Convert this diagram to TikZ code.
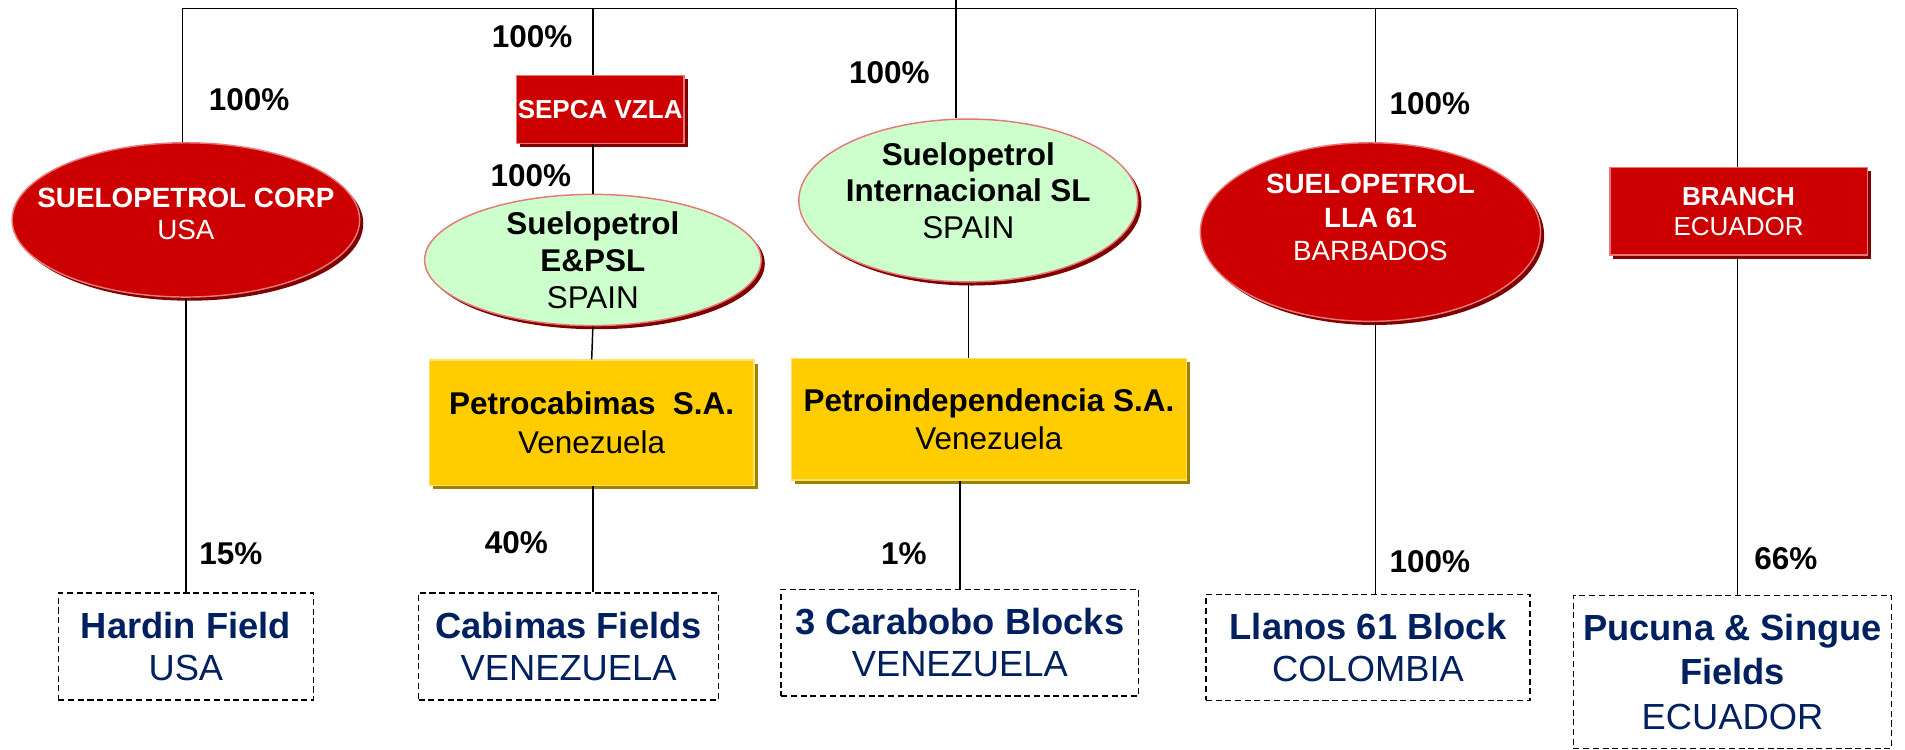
\documentclass[tikz,border=0pt]{standalone}
\usepackage{fontspec}
\setmainfont{Liberation Sans}
\usetikzlibrary{shapes.geometric,shadows}
\definecolor{sred}{RGB}{204,0,0}
\definecolor{sdark}{RGB}{128,0,0}
\definecolor{spink}{RGB}{232,120,120}
\definecolor{sgreen}{RGB}{204,255,204}
\definecolor{syellow}{RGB}{255,204,0}
\definecolor{sgold}{RGB}{160,128,0}
\definecolor{slight}{RGB}{255,226,110}
\definecolor{snavy}{RGB}{0,32,96}
\tikzset{
  darkshadow/.style={drop shadow={shadow xshift=3bp, shadow yshift=-3bp, fill=#1, opacity=1}},
  oval/.style={ellipse, draw=spink, line width=1.2bp, inner sep=0pt, darkshadow=sdark},
  redoval/.style={oval, fill=sred},
  greenoval/.style={oval, fill=sgreen},
  redbox/.style={rectangle, fill=sred, draw=spink, line width=1.2bp, inner sep=0pt, darkshadow=sdark,
    align=center, text=white, font=\fontsize{21.5}{25}\selectfont\bfseries},
  yellowbox/.style={rectangle, fill=syellow, draw=slight, line width=1.2bp, inner sep=0pt, darkshadow=sgold,
    align=center, font=\fontsize{26}{32}\selectfont\bfseries},
  fieldbox/.style={rectangle, draw, line width=1.2bp, dash pattern=on 5bp off 3bp, inner sep=0pt,
    align=center, text=snavy, font=\fontsize{30}{35}\selectfont\bfseries},
  whitetxt/.style={align=center, text=white, font=\fontsize{23}{27}\selectfont\bfseries},
  blacktxt/.style={align=center, font=\fontsize{26}{30.5}\selectfont\bfseries},
  pct/.style={font=\fontsize{26}{30}\selectfont\bfseries},
  wire/.style={line width=1.2bp}
}
\begin{document}
\begin{tikzpicture}[x=1bp, y=-1bp]
  \useasboundingbox (0,0) rectangle (1568,617);
  \coordinate (root) at (787,-5);
  \coordinate (busL) at (150,7);
  \coordinate (bus2) at (488,7);
  \coordinate (bus4) at (1132,7);
  \coordinate (busR) at (1430,7);

  \node[redoval, minimum width=286bp, minimum height=127bp] (corp) at (153,181) {};
  \node[whitetxt, yshift=5bp] (corptxt) at (corp) {SUELOPETROL CORP\\{\mdseries USA}};
  \node[redbox, minimum width=138bp, minimum height=56bp] (sepca) at (494,90) {SEPCA VZLA};
  \node[greenoval, minimum width=277bp, minimum height=108bp] (epsl) at (488,214) {};
  \node[blacktxt] (epsltxt) at (epsl) {Suelopetrol\\E\&PSL\\{\mdseries SPAIN}};
  \node[greenoval, minimum width=279bp, minimum height=134bp] (intl) at (797,165) {};
  \node[blacktxt, yshift=8bp] (intltxt) at (intl) {Suelopetrol\\Internacional SL\\{\mdseries SPAIN}};
  \node[redoval, minimum width=280bp, minimum height=147bp] (lla) at (1128,191) {};
  \node[whitetxt, yshift=12bp, font=\fontsize{23}{28}\selectfont\bfseries] (llatxt) at (lla) {SUELOPETROL\\LLA 61\\{\mdseries BARBADOS}};
  \node[redbox, minimum width=212bp, minimum height=72bp] (branch) at (1431,174) {BRANCH\\{\mdseries ECUADOR}};

  \node[yellowbox, minimum width=267bp, minimum height=103bp] (petrocab) at (487,348) {Petrocabimas~ S.A.\\{\mdseries Venezuela}};
  \node[yellowbox, minimum width=325bp, minimum height=100bp] (petroind) at (814,345) {Petroindependencia S.A.\\{\mdseries Venezuela}};

  \node[fieldbox, minimum width=210bp, minimum height=88bp] (hardin) at (153,532) {Hardin Field\\{\mdseries USA}};
  \node[fieldbox, minimum width=247bp, minimum height=88bp] (cabimas) at (468,532) {Cabimas Fields\\{\mdseries VENEZUELA}};
  \node[fieldbox, minimum width=294bp, minimum height=88bp] (carabobo) at (790,529) {3 Carabobo Blocks\\{\mdseries VENEZUELA}};
  \node[fieldbox, minimum width=267bp, minimum height=87bp] (llanos) at (1126,533) {Llanos 61 Block\\{\mdseries COLOMBIA}};
  \node[fieldbox, minimum width=262bp, minimum height=126bp, font=\fontsize{30}{37}\selectfont\bfseries] (pucuna) at (1426,553) {Pucuna \& Singue\\Fields\\{\mdseries ECUADOR}};

  \node[pct] (pcorp) at (205,82) {100\%};
  \node[pct] (psepca) at (438,30) {100\%};
  \node[pct] (pepsl) at (437,145) {100\%};
  \node[pct] (pintl) at (732,60) {100\%};
  \node[pct] (plla) at (1177,85) {100\%};
  \node[pct] (phardin) at (190,456) {15\%};
  \node[pct] (pcabimas) at (425,447) {40\%};
  \node[pct] (pcarabobo) at (744,456) {1\%};
  \node[pct] (pllanos) at (1177,462) {100\%};
  \node[pct] (ppucuna) at (1470,460) {66\%};

  \draw[wire] (busL) -- (busR);
  \draw[wire] (root) -- (root |- intl.north);
  \draw[wire] (busL) -- (busL |- corp.north);
  \draw[wire] (corp.south) -- (hardin.north);
  \draw[wire] (bus2) -- (bus2 |- sepca.north);
  \draw[wire] (epsl.north |- sepca.south) -- (epsl.north);
  \draw[wire] (epsl.south) -- (petrocab.north);
  \draw[wire] (epsl.south |- petrocab.south) -- (epsl.south |- cabimas.north);
  \draw[wire] (intl.south) -- (intl.south |- petroind.north);
  \draw[wire] (carabobo.north |- petroind.south) -- (carabobo.north);
  \draw[wire] (bus4) -- (bus4 |- lla.north);
  \draw[wire] (bus4 |- lla.south) -- (bus4 |- llanos.north);
  \draw[wire] (busR) -- (busR |- branch.north);
  \draw[wire] (busR |- branch.south) -- (busR |- pucuna.north);
\end{tikzpicture}
\end{document}
